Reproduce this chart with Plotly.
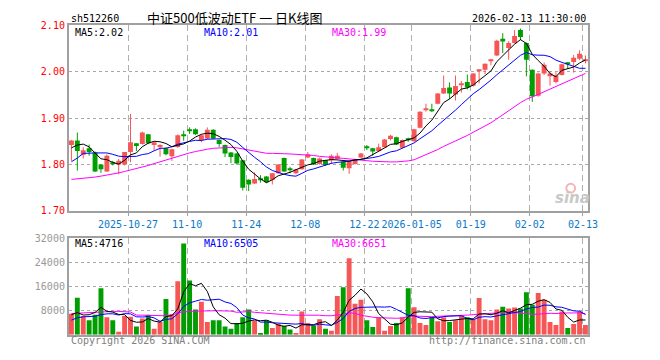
import plotly.graph_objects as go
import pandas as pd

# ---------------- data ----------------
oct_days = [13, 14, 15, 16, 17, 20, 21, 22, 23, 24, 27, 28, 29, 30, 31]
nov_days = [3, 4, 5, 6, 7, 10, 11, 12, 13, 14, 17, 18, 19, 20, 21, 24, 25, 26, 27, 28]
dec_days = [1, 2, 3, 4, 5, 8, 9, 10, 11, 12, 15, 16, 17, 18, 19, 22, 23, 24, 25, 26, 29, 30, 31]
jan_days = [5, 6, 7, 8, 9, 12, 13, 14, 15, 16, 19, 20, 21, 22, 23, 26, 27, 28, 29, 30]
feb_days = [2, 3, 4, 5, 6, 9, 10, 11, 12, 13]
dates = ([f"2025-10-{d:02d}" for d in oct_days] + [f"2025-11-{d:02d}" for d in nov_days] +
         [f"2025-12-{d:02d}" for d in dec_days] + [f"2026-01-{d:02d}" for d in jan_days] +
         [f"2026-02-{d:02d}" for d in feb_days])

open_ = [1.842, 1.852, 1.821, 1.835, 1.826, 1.800, 1.785, 1.803, 1.800, 1.800,
         1.827, 1.846, 1.844, 1.865, 1.842, 1.837, 1.835, 1.818, 1.838, 1.864,
         1.875, 1.876, 1.853, 1.856, 1.875, 1.853, 1.842, 1.826, 1.824, 1.809,
         1.767, 1.759, 1.769, 1.774, 1.767, 1.781, 1.814, 1.789, 1.781, 1.790,
         1.815, 1.814, 1.801, 1.809, 1.809, 1.812, 1.806, 1.792, 1.801, 1.815,
         1.837, 1.835, 1.829, 1.837, 1.855, 1.859, 1.836, 1.855, 1.850, 1.879,
         1.918, 1.918, 1.931, 1.953, 1.966, 1.951, 1.971, 1.978, 1.970, 2.003,
         2.004, 2.024, 2.035, 2.071, 2.051, 2.062, 2.090, 2.062, 2.004, 1.948,
         1.996, 1.990, 1.978, 1.993, 2.019, 2.021, 2.028, 2.024]
high = [1.853, 1.869, 1.837, 1.843, 1.828, 1.800, 1.822, 1.808, 1.812, 1.827,
        1.909, 1.846, 1.871, 1.866, 1.850, 1.844, 1.837, 1.834, 1.865, 1.873,
        1.880, 1.878, 1.865, 1.880, 1.876, 1.854, 1.843, 1.827, 1.825, 1.810,
        1.768, 1.783, 1.777, 1.775, 1.782, 1.801, 1.815, 1.795, 1.791, 1.812,
        1.827, 1.815, 1.815, 1.810, 1.822, 1.825, 1.807, 1.809, 1.813, 1.825,
        1.842, 1.836, 1.845, 1.855, 1.864, 1.860, 1.854, 1.858, 1.877, 1.915,
        1.931, 1.931, 1.954, 1.992, 1.977, 1.992, 1.980, 1.994, 1.997, 2.005,
        2.018, 2.027, 2.069, 2.083, 2.066, 2.090, 2.093, 2.063, 2.005, 1.998,
        2.020, 2.001, 1.999, 2.017, 2.021, 2.036, 2.046, 2.035]
low = [1.808, 1.787, 1.813, 1.819, 1.784, 1.782, 1.784, 1.798, 1.779, 1.798,
       1.805, 1.829, 1.843, 1.844, 1.830, 1.817, 1.820, 1.808, 1.836, 1.851,
       1.866, 1.864, 1.848, 1.854, 1.855, 1.838, 1.816, 1.803, 1.800, 1.744,
       1.743, 1.758, 1.761, 1.760, 1.757, 1.780, 1.784, 1.781, 1.779, 1.789,
       1.814, 1.799, 1.800, 1.797, 1.801, 1.811, 1.787, 1.780, 1.800, 1.814,
       1.831, 1.819, 1.828, 1.836, 1.852, 1.842, 1.835, 1.849, 1.849, 1.878,
       1.914, 1.913, 1.930, 1.952, 1.941, 1.938, 1.955, 1.962, 1.968, 1.975,
       1.995, 2.014, 2.034, 2.040, 2.026, 2.061, 2.068, 1.990, 1.935, 1.946,
       1.993, 1.970, 1.975, 1.992, 2.006, 1.998, 2.025, 2.018]
close = [1.852, 1.829, 1.831, 1.827, 1.785, 1.790, 1.819, 1.802, 1.808, 1.827,
         1.848, 1.840, 1.869, 1.846, 1.848, 1.842, 1.822, 1.833, 1.863, 1.862,
         1.873, 1.865, 1.863, 1.875, 1.856, 1.844, 1.824, 1.816, 1.802, 1.750,
         1.757, 1.769, 1.767, 1.762, 1.781, 1.800, 1.785, 1.788, 1.790, 1.811,
         1.822, 1.800, 1.813, 1.799, 1.819, 1.819, 1.793, 1.807, 1.812, 1.824,
         1.836, 1.828, 1.837, 1.854, 1.862, 1.843, 1.853, 1.853, 1.876, 1.914,
         1.920, 1.916, 1.953, 1.965, 1.953, 1.969, 1.973, 1.966, 1.996, 2.004,
         2.017, 2.025, 2.067, 2.065, 2.062, 2.077, 2.075, 2.026, 1.947, 1.996,
         2.015, 1.996, 1.992, 2.016, 2.017, 2.030, 2.039, 2.026]
volume = [6900, 12250, 6200, 4800, 6600, 15350, 5760, 4800, 960, 6200,
          5900, 2670, 5330, 6600, 1920, 4270, 11840, 6830, 17700, 30200,
          17900, 8320, 10880, 4160, 4800, 4800, 2670, 1920, 3840, 5760,
          8320, 4700, 430, 4800, 2240, 3630, 2880, 1710, 430, 7680,
          3840, 2880, 5120, 1920, 1280, 12800, 15680, 25280, 10240, 11520,
          4800, 2560, 5760, 1280, 2880, 3840, 5760, 15360, 9070, 3840,
          3200, 5760, 4480, 5760, 4160, 4800, 6400, 5760, 5120, 12160,
          5120, 4800, 8320, 9280, 8640, 8960, 8640, 14080, 9920, 13760,
          11520, 4160, 3200, 7680, 2240, 3520, 7680, 3200]

ma5_early = [1.836, 1.842, 1.844, 1.838]
ma10_early = [1.806, 1.814, 1.824, 1.825, 1.825, 1.825, 1.825, 1.822, 1.818]
ma30_early = [1.768, 1.769, 1.770, 1.771, 1.773, 1.775, 1.777, 1.779, 1.782, 1.785,
              1.788, 1.791, 1.794, 1.798, 1.802, 1.806, 1.810, 1.813, 1.817, 1.821,
              1.825, 1.828, 1.831, 1.833, 1.835, 1.836, 1.837, 1.837, 1.836]
vol_ma5_early = [6600, 7300, 6500, 6600]
vol_ma10_early = [4800, 5600, 5900, 6000, 6100, 6600, 6900, 6900, 6500]
vol_ma30_early = [7000, 7100, 7200, 7400, 7600, 7700, 7700, 7700, 7700, 7600,
                  7500, 6500, 6400, 6400, 6400, 6300, 6300, 6400, 7300, 7600,
                  7700, 7800, 7900, 7900, 7900, 7900, 7900, 7800, 7400]

tick_dates = ["2025-10-27", "2025-11-10", "2025-11-24", "2025-12-08", "2025-12-22",
              "2026-01-05", "2026-01-19", "2026-02-02", "2026-02-13"]
tick_labels = ["2025-10-27", "11-10", "11-24", "12-08", "12-22",
               "2026-01-05", "01-19", "02-02", "02-13"]
price_ticks = [1.70, 1.80, 1.90, 2.00, 2.10]
vol_ticks = [8000, 16000, 24000, 32000]

title_text = "中证500低波动ETF 一 日K线图"
code_text = "sh512260"
time_text = "2026-02-13 11:30:00"
price_ma_labels = ["MA5:2.02", "MA10:2.01", "MA30:1.99"]
vol_ma_labels = ["MA5:4716", "MA10:6505", "MA30:6651"]

# ---------------- derived ----------------
n = len(dates)
xs = list(range(n))


def moving(vals, w, early):
    s = pd.Series(vals, dtype=float).rolling(w).mean().tolist()
    s[:w - 1] = early
    return s


ma5 = moving(close, 5, ma5_early)
ma10 = moving(close, 10, ma10_early)
ma30 = moving(close, 30, ma30_early)
vma5 = moving(volume, 5, vol_ma5_early)
vma10 = moving(volume, 10, vol_ma10_early)
vma30 = moving(volume, 30, vol_ma30_early)

RED = "#F75656"
GREEN = "#009E00"
up = [c >= o for o, c in zip(open_, close)]

fig = go.Figure()

# wicks
for flag, col in ((True, RED), (False, GREEN)):
    wx, wy = [], []
    for i in xs:
        if up[i] == flag:
            wx += [i, i, None]
            wy += [low[i], high[i], None]
    fig.add_trace(go.Scatter(x=wx, y=wy, mode="lines", line=dict(color=col, width=1),
                             hoverinfo="skip", xaxis="x", yaxis="y"))

# bodies
for flag, col in ((True, RED), (False, GREEN)):
    bx = [i for i in xs if up[i] == flag]
    base = [min(open_[i], close[i]) for i in bx]
    hgt = [max(abs(close[i] - open_[i]), 0.0021) for i in bx]
    fig.add_trace(go.Bar(x=bx, y=hgt, base=base, width=0.83, marker=dict(color=col, line=dict(width=0)),
                         xaxis="x", yaxis="y"))

# price MAs
for vals, col in ((ma30, "#FF00FF"), (ma10, "#0000FF"), (ma5, "#000000")):
    fig.add_trace(go.Scatter(x=xs, y=vals, mode="lines", line=dict(color=col, width=1),
                             xaxis="x", yaxis="y"))

# volume bars
for flag, col in ((True, RED), (False, GREEN)):
    bx = [i for i in xs if up[i] == flag]
    fig.add_trace(go.Bar(x=bx, y=[volume[i] for i in bx], width=0.83,
                         marker=dict(color=col, line=dict(width=0)), xaxis="x2", yaxis="y2"))

for vals, col in ((vma30, "#FF00FF"), (vma10, "#0000FF"), (vma5, "#000000")):
    fig.add_trace(go.Scatter(x=xs, y=vals, mode="lines", line=dict(color=col, width=1),
                             xaxis="x2", yaxis="y2"))

W, H = 660, 360
L, R = 70, 597


def px(x):
    return x / W


def py(y):
    return 1 - y / H


tickvals = [dates.index(d) - 0.42 for d in tick_dates]
MONO = "DejaVu Sans Mono"
BORDER = "#A0A0A0"
xr = [-0.42, n - 1 + 0.42]

common_x = dict(range=xr, showgrid=True, gridcolor="#B0B0B0", griddash="6px,4px", gridwidth=1,
                zeroline=False, showline=True, mirror=True, linecolor=BORDER, linewidth=2,
                tickvals=tickvals, fixedrange=True)

fig.update_layout(
    width=W, height=H, margin=dict(l=0, r=0, t=0, b=0),
    paper_bgcolor="white", plot_bgcolor="white", showlegend=False, barmode="overlay",
    xaxis=dict(domain=[px(L), px(R)], anchor="y", ticktext=tick_labels, ticks="outside", ticklen=3,
               tickcolor=BORDER, tickfont=dict(family=MONO, size=10, color="#0A78C8"), **common_x),
    yaxis=dict(domain=[py(212), py(20)], range=[1.70, 2.10], tickvals=price_ticks,
               ticktext=[f"{v:.2f}" for v in price_ticks], tickfont=dict(family=MONO, size=10, color="#FF0000"),
               showgrid=True, gridcolor="#A8A8A8", griddash="dot", zeroline=False, showline=True,
               mirror=True, linecolor=BORDER, linewidth=2, ticks="", anchor="x"),
    xaxis2=dict(domain=[px(L), px(R)], anchor="y2", showticklabels=False, ticks="", **common_x),
    yaxis2=dict(domain=[py(340), py(240)], range=[0, 32000], tickvals=vol_ticks,
                ticktext=[str(v) for v in vol_ticks], tickfont=dict(family=MONO, size=10, color="#999999"),
                showgrid=True, gridcolor="#A8A8A8", griddash="dot", zeroline=False, showline=True,
                mirror=True, linecolor=BORDER, linewidth=2, ticks="", anchor="x2"),
)

ann = []


def text(x, y, s, color="#000000", anchor="left", size=10, family=MONO):
    ann.append(dict(x=px(x), y=py(y), xref="paper", yref="paper", text=s, showarrow=False,
                    xanchor=anchor, yanchor="middle", font=dict(family=family, size=size, color=color)))


text(70, 13, code_text)
text(239, 11.5, title_text, anchor="center", size=13, family="Noto Sans CJK SC")
text(597, 13, time_text, anchor="right")
ma_cols = ["#000000", "#0000FF", "#FF00FF"]
for s, xx, c in zip(price_ma_labels, [74, 205, 335], ma_cols):
    text(xx, 27, s, color=c)
for s, xx, c in zip(vol_ma_labels, [74, 205, 335], ma_cols):
    text(xx, 246, s, color=c)
text(70, 346, "Copyright 2026 SINA.COM", color="#808080")
text(597, 346, "http://finance.sina.com.cn", color="#808080", anchor="right")
text(581, 199, "<b><i>sina</i></b>", color="#C8C8C8", anchor="center", size=15, family="DejaVu Sans")
fig.update_layout(annotations=ann)
fig.add_shape(type="circle", xref="paper", yref="paper", x0=px(575), x1=px(584), y0=py(193), y1=py(184),
              line=dict(color="#F2B6B6", width=2), fillcolor="rgba(0,0,0,0)")

fig.write_html("out.html", config={"displayModeBar": False})

# remove the browser's default page margin so the figure sits at the window's origin
with open("out.html", "r", encoding="utf-8") as f:
    page = f.read()
page = page.replace("<head>", "<head><style>html,body{margin:0;padding:0;overflow:hidden;}</style>", 1)
with open("out.html", "w", encoding="utf-8") as f:
    f.write(page)
